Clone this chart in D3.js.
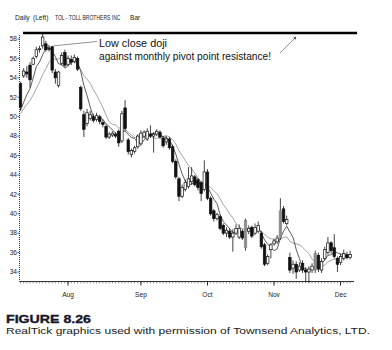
<!DOCTYPE html>
<html><head><meta charset="utf-8">
<script src="https://cdn.jsdelivr.net/npm/d3@7"></script>
<style>
  body { margin: 0; background: #fff; }
  text { font-family: "Liberation Sans", Arial, sans-serif; }
</style>
</head>
<body>
<svg id="chart" width="392" height="350"></svg>
<script>
// TOL daily bars, mid-July to early December
const opens = [53.4,54.2,54.6,55.3,55.4,56.2,56.9,57.3,57.5,57.0,57.2,54.6,53.2,55.5,56.6,55.4,55.9,55.7,56.0,53.0,
  50.2,49.3,49.8,50.0,49.7,50.0,49.4,49.0,47.9,48.1,48.2,48.5,47.5,50.9,47.6,46.1,46.4,46.9,47.2,48.0,
  47.7,48.2,48.0,48.2,48.4,47.8,47.4,47.7,46.9,45.4,43.6,41.8,42.5,42.8,43.3,43.8,43.5,43.2,42.5,44.3,
  41.6,40.3,39.5,39.7,38.8,38.0,38.2,37.6,38.0,37.6,38.2,36.5,38.2,38.6,38.0,38.2,38.0,36.8,34.9,36.3,
  36.9,37.1,37.5,40.5,39.0,35.5,34.4,34.8,34.2,34.9,34.2,34.0,34.2,34.2,35.7,34.2,35.4,36.0,37.0,36.5,
  35.4,35.0,35.4,35.8,35.5];
const highs = [53.6,55.0,55.2,55.6,56.2,57.2,57.3,58.6,57.8,57.4,57.3,54.9,54.7,56.6,56.9,56.3,56.3,56.4,56.2,53.2,
  50.6,50.8,50.6,50.3,50.4,50.2,49.7,49.2,48.4,48.5,48.4,48.7,50.6,51.7,47.8,46.7,47.0,48.2,48.6,48.6,
  48.8,49.1,48.4,48.7,48.6,48.0,48.0,47.9,47.1,45.6,43.8,43.0,43.5,44.8,44.8,44.0,43.7,43.4,45.5,44.6,
  41.8,40.5,40.1,39.9,39.0,38.6,38.5,38.4,38.9,38.9,38.4,39.5,38.8,38.8,39.0,39.2,38.2,37.0,35.8,37.0,
  37.4,37.8,41.6,40.8,39.8,36.0,35.2,35.1,35.0,35.2,34.5,34.6,34.9,36.2,36.0,35.4,36.6,37.6,37.2,37.9,
  35.6,35.9,36.3,36.1,36.2];
const lows = [50.6,54.0,54.0,53.0,55.3,56.0,56.6,57.0,56.7,56.7,54.5,53.4,53.0,55.3,55.1,55.2,55.3,55.5,54.7,50.6,
  47.9,49.0,49.6,49.4,49.5,49.2,48.9,47.7,47.7,47.9,47.8,46.9,47.3,48.5,46.1,45.8,46.2,46.7,47.0,47.8,
  47.5,47.8,46.3,48.0,47.7,46.8,47.1,46.6,45.2,43.6,41.3,41.6,42.3,42.6,43.0,42.8,42.4,41.3,42.3,41.4,
  39.8,39.2,39.3,38.3,37.8,37.6,37.4,36.1,37.8,37.4,37.3,36.2,37.9,37.5,37.8,38.0,36.4,34.6,34.7,35.4,
  36.7,36.9,37.3,39.0,38.8,33.9,33.8,33.3,34.0,33.9,33.0,32.9,33.9,33.9,34.0,33.9,35.2,35.8,35.9,35.4,
  34.0,34.7,35.2,35.3,35.3];
const closes = [51.0,54.7,54.4,53.8,56.0,56.9,57.0,58.2,56.9,56.98,54.8,54.0,54.6,56.3,55.3,56.0,55.6,56.1,54.9,50.8,
  48.7,50.4,50.2,49.6,50.1,49.5,49.2,47.9,48.2,48.3,48.0,47.3,50.3,48.8,46.4,46.5,46.8,48.0,48.3,48.4,
  48.5,48.0,48.2,48.5,47.9,47.0,47.7,46.8,45.4,43.8,41.8,42.7,43.2,43.6,43.9,43.0,42.7,42.1,44.3,41.6,
  40.0,39.5,39.9,38.5,38.0,38.3,37.6,38.0,38.5,38.5,37.5,39.3,38.5,37.7,38.6,38.8,36.6,34.8,35.6,36.8,
  37.2,37.5,40.3,39.2,39.4,34.2,34.8,34.0,34.6,34.2,34.0,34.3,34.6,35.9,34.3,35.1,36.3,37.0,36.2,35.6,
  34.8,35.6,35.9,35.5,35.8];
// closes of the sessions just before the first bar, used to seed the averages
const priorCloses = [49.6,50.0,49.8,50.3,50.1,50.6,50.4,50.8,50.5];
// wide-range sessions printed in grey
const greyBars = [71, 82, 93];

const monthLabels = ["Aug", "Sep", "Oct", "Nov", "Dec"];
const monthStarts = [15, 38, 59, 80, 101];
const priceTicks = [34, 36, 38, 40, 42, 44, 46, 48, 50, 52, 54, 56, 58];
const pivotLevel = 58.62;
const maPeriods = [5, 10];

const svg = d3.select("#chart");
const x = d3.scaleLinear().domain([0, 104]).range([20.5, 350.1]);
const y = d3.scaleLinear().domain([34, 58]).range([272, 39]);

const bars = opens.map((o, i) => ({ i, o, h: highs[i], l: lows[i], c: closes[i] }));

// header
const hdr = svg.append("g").attr("font-size", 6.6).attr("fill", "#222");
hdr.append("text").attr("x", 15).attr("y", 20).text("Daily");
hdr.append("text").attr("x", 33).attr("y", 20).text("(Left)");
hdr.append("text").attr("transform", "translate(55,20) scale(0.76,1)")
  .text("TOL - TOLL BROTHERS INC");
hdr.append("text").attr("x", 130).attr("y", 20).text("Bar");

// price axis
const yAx = svg.append("g");
yAx.append("line").attr("x1", 19.5).attr("x2", 19.5).attr("y1", 35).attr("y2", 281.5)
  .attr("stroke", "#333").attr("stroke-width", 1).attr("stroke-dasharray", "1,1");
yAx.selectAll("line.t").data(priceTicks).join("line").attr("class", "t")
  .attr("x1", 17.5).attr("x2", 19.5).attr("y1", d => y(d)).attr("y2", d => y(d))
  .attr("stroke", "#333").attr("stroke-width", 0.8);
yAx.selectAll("text").data(priceTicks).join("text")
  .attr("x", 17).attr("y", d => y(d) + 2.3).attr("text-anchor", "end")
  .attr("font-size", 6.6).attr("fill", "#222").text(d => d);

// time axis
const xAx = svg.append("g");
const axisY = 281.5;
xAx.append("line").attr("x1", 19.5).attr("x2", 354).attr("y1", axisY).attr("y2", axisY)
  .attr("stroke", "#333").attr("stroke-width", 1);
xAx.selectAll("line.m").data(d3.range(0, 105)).join("line").attr("class", "m")
  .attr("x1", d => x(d)).attr("x2", d => x(d)).attr("y1", axisY).attr("y2", axisY + 1.8)
  .attr("stroke", "#555").attr("stroke-width", 0.7);
xAx.selectAll("line.M").data(monthStarts).join("line").attr("class", "M")
  .attr("x1", d => x(d)).attr("x2", d => x(d)).attr("y1", axisY).attr("y2", axisY + 4)
  .attr("stroke", "#222").attr("stroke-width", 1);
xAx.selectAll("text").data(monthStarts).join("text")
  .attr("x", d => x(d)).attr("y", 297).attr("text-anchor", "middle")
  .attr("font-size", 6.6).attr("fill", "#222").text((d, k) => monthLabels[k]);

// resistance line
svg.append("line").attr("x1", x(0.8)).attr("x2", x(106.2))
  .attr("y1", y(pivotLevel)).attr("y2", y(pivotLevel))
  .attr("stroke", "#000").attr("stroke-width", 2.6);

// moving averages
const allCloses = priorCloses.concat(closes);
function sma(n) {
  return closes.map((c, i) => {
    const j = i + priorCloses.length;
    return { i, v: d3.mean(allCloses.slice(j - n + 1, j + 1)) };
  });
}
const line = d3.line().x(d => x(d.i)).y(d => y(d.v));
svg.append("path").datum(sma(maPeriods[1])).attr("d", line)
  .attr("fill", "none").attr("stroke", "#9a9a9a").attr("stroke-width", 0.9);
svg.append("path").datum(sma(maPeriods[0])).attr("d", line)
  .attr("fill", "none").attr("stroke", "#333").attr("stroke-width", 0.8);

// candles
const bw = 2.5;
const cg = svg.append("g");
cg.selectAll("line").data(bars).join("line")
  .attr("x1", d => x(d.i)).attr("x2", d => x(d.i))
  .attr("y1", d => y(d.h)).attr("y2", d => y(d.l))
  .attr("stroke", "#111").attr("stroke-width", 0.8);
cg.selectAll("rect").data(bars).join("rect")
  .attr("x", d => x(d.i) - bw / 2).attr("width", bw)
  .attr("y", d => y(Math.max(d.o, d.c)))
  .attr("height", d => Math.max(0.6, Math.abs(y(d.o) - y(d.c))))
  .attr("fill", d => greyBars.includes(d.i) ? "#8c8c8c" : (d.c >= d.o ? "#fff" : "#111"))
  .attr("stroke", d => greyBars.includes(d.i) ? "#888" : "#111")
  .attr("stroke-width", 0.7);

// annotation
const doji = bars[9];
svg.append("line").attr("x1", x(doji.i + 1) + 1.5).attr("y1", y(doji.h) + 1)
  .attr("x2", 97).attr("y2", 41.5).attr("stroke", "#777").attr("stroke-width", 0.8);
const ann = svg.append("g").attr("font-size", 11.4).attr("fill", "#111");
ann.append("text").attr("x", 99).attr("y", 47).attr("textLength", 68)
  .attr("lengthAdjust", "spacingAndGlyphs").text("Low close doji");
ann.append("text").attr("x", 99).attr("y", 60).attr("textLength", 172)
  .attr("lengthAdjust", "spacingAndGlyphs").text("against monthly pivot point resistance!");
svg.append("defs").append("marker").attr("id", "ah").attr("viewBox", "0 0 6 6")
  .attr("refX", 5).attr("refY", 3).attr("markerWidth", 4).attr("markerHeight", 4)
  .attr("orient", "auto").append("path").attr("d", "M0,0L6,3L0,6Z").attr("fill", "#444");
svg.append("line").attr("x1", 280).attr("y1", 53).attr("x2", 296).attr("y2", 37)
  .attr("stroke", "#777").attr("stroke-width", 0.8).attr("marker-end", "url(#ah)");

// caption
svg.append("text").attr("x", 6).attr("y", 323)
  .attr("font-family", "'DejaVu Serif', serif").attr("font-weight", "bold")
  .attr("font-size", 11.6).attr("fill", "#15152a").attr("stroke", "#15152a").attr("stroke-width", 0.35)
  .attr("textLength", 85).attr("lengthAdjust", "spacingAndGlyphs").text("FIGURE 8.26");
svg.append("text").attr("x", 6).attr("y", 334)
  .attr("font-family", "'DejaVu Sans', sans-serif").attr("font-size", 9.6)
  .attr("textLength", 364).attr("lengthAdjust", "spacingAndGlyphs")
  .attr("fill", "#1a1a1a").text("RealTick graphics used with permission of Townsend Analytics, LTD.");
</script>
</body></html>
